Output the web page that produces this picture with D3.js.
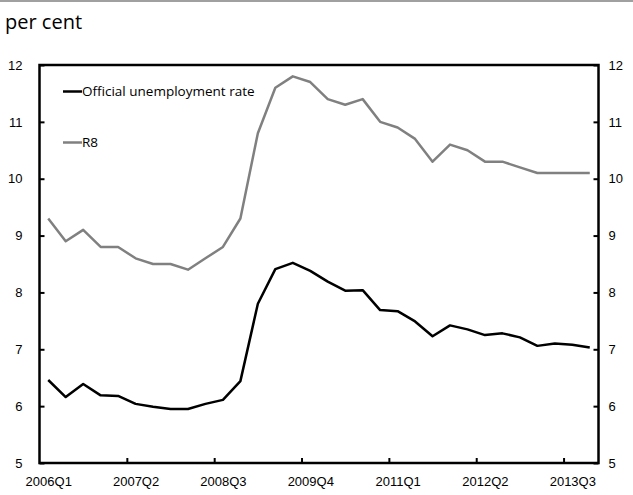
<!DOCTYPE html>
<html>
<head>
<meta charset="utf-8">
<script src="https://cdn.jsdelivr.net/npm/d3@7"></script>
<style>
  body { margin: 0; background: #fff; }
  svg { display: block; font-family: 'Open Sans', 'Noto Sans', sans-serif; }
  .axis text { font-size: 13px; fill: #000; }
  .axis line { stroke: #000; stroke-width: 2; }
  .axis path { display: none; }
</style>
</head>
<body>
<svg width="633" height="495"></svg>
<script>
// quarters from 2006Q1 to 2013Q4
var quarters = [];
for (var yr = 2006; yr <= 2013; yr++) {
    for (var q = 1; q <= 4; q++) quarters.push(yr + 'Q' + q);
}

// Official unemployment rate, per cent
var official = [6.46, 6.16, 6.39, 6.19, 6.18, 6.04, 5.99, 5.95, 5.95, 6.04,
                6.11, 6.44, 7.80, 8.41, 8.52, 8.38, 8.19, 8.03, 8.04, 7.69,
                7.67, 7.49, 7.23, 7.42, 7.35, 7.25, 7.28, 7.21, 7.06, 7.10,
                7.08, 7.03];

// R8, per cent
var r8 = [9.3, 8.9, 9.1, 8.8, 8.8, 8.6, 8.5, 8.5, 8.4, 8.6,
          8.8, 9.3, 10.8, 11.6, 11.8, 11.7, 11.4, 11.3, 11.4, 11.0,
          10.9, 10.7, 10.3, 10.6, 10.5, 10.3, 10.3, 10.2, 10.1, 10.1,
          10.1, 10.1];

var yTicks = [5, 6, 7, 8, 9, 10, 11, 12];
var labelEvery = 5;

var series = [
    {name: 'Official unemployment rate', values: official, color: '#000000'},
    {name: 'R8', values: r8, color: '#808080'}
];

var svg = d3.select('svg');
var plot = {l: 39.5, r: 598.5, t: 65, b: 463};

// x is in "category units": category i spans [i, i+1]
var x = d3.scaleLinear()
    .domain([0, quarters.length])
    .range([plot.l, plot.r]);

var y = d3.scaleLinear()
    .domain([5, 12])
    .range([plot.b, plot.t]);

// top rule and heading
svg.append('line')
    .attr('x1', 0).attr('x2', 633)
    .attr('y1', 1).attr('y2', 1)
    .attr('stroke', '#a0a0a0')
    .attr('stroke-width', 2);

svg.append('text')
    .attr('x', 5)
    .attr('y', 29)
    .attr('font-size', 20)
    .text('per cent');

// y axes, ticks point inward
svg.append('g')
    .attr('class', 'axis')
    .attr('transform', 'translate(' + plot.l + ',0)')
    .call(d3.axisLeft(y).tickValues(yTicks).tickFormat(d3.format('d'))
        .tickSizeInner(-5).tickSizeOuter(0).tickPadding(17));

svg.append('g')
    .attr('class', 'axis')
    .attr('transform', 'translate(' + plot.r + ',0)')
    .call(d3.axisRight(y).tickValues(yTicks).tickFormat(d3.format('d'))
        .tickSizeInner(-5).tickSizeOuter(0).tickPadding(10));

// x axis: tick marks on category boundaries, labels on category centres
var boundaryTicks = d3.range(labelEvery, quarters.length, labelEvery);
svg.append('g')
    .attr('class', 'axis')
    .attr('transform', 'translate(0,' + plot.b + ')')
    .call(d3.axisBottom(x).tickValues(boundaryTicks).tickSizeInner(-5).tickSizeOuter(0).tickFormat(''));

var labelIdx = d3.range(0, quarters.length, labelEvery);
svg.append('g')
    .attr('class', 'axis')
    .attr('transform', 'translate(0,' + plot.b + ')')
    .call(d3.axisBottom(x)
        .tickValues(labelIdx.map(function(i){ return i + 0.5; }))
        .tickSize(0)
        .tickPadding(14)
        .tickFormat(function(d){ return quarters[Math.floor(d)]; }))
    .selectAll('line').remove();

// lines
var line = d3.line()
    .x(function(d, i){ return x(i + 0.5); })
    .y(function(d){ return y(d); });

svg.selectAll('.series')
    .data(series.slice().reverse())
    .enter()
    .append('path')
    .attr('class', 'series')
    .attr('fill', 'none')
    .attr('stroke', function(d){ return d.color; })
    .attr('stroke-width', 2.5)
    .attr('stroke-linejoin', 'round')
    .attr('d', function(d){ return line(d.values); });

// frame
svg.append('rect')
    .attr('x', plot.l)
    .attr('y', plot.t)
    .attr('width', plot.r - plot.l)
    .attr('height', plot.b - plot.t)
    .attr('fill', 'none')
    .attr('stroke', '#000')
    .attr('stroke-width', 2.5);

// legend
var legend = svg.selectAll('.legend')
    .data(series)
    .enter()
    .append('g')
    .attr('class', 'legend')
    .attr('transform', function(d, i){ return 'translate(63,' + (91.5 + i * 51) + ')'; });

legend.append('line')
    .attr('x1', 0).attr('x2', 19)
    .attr('stroke', function(d){ return d.color; })
    .attr('stroke-width', 2.5);

legend.append('text')
    .attr('x', 19)
    .attr('dy', '0.35em')
    .attr('font-size', 13.5)
    .text(function(d){ return d.name; });
</script>
</body>
</html>
